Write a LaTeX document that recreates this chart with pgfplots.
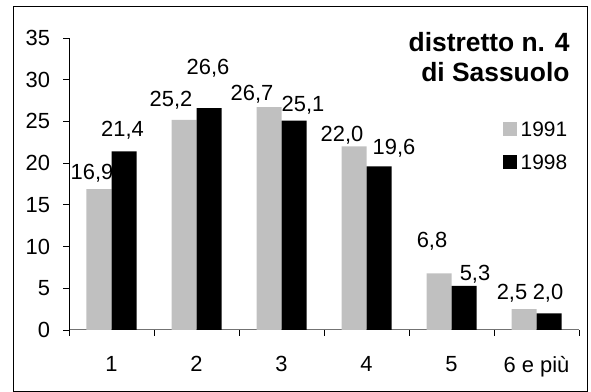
\documentclass[border=0pt]{standalone}
\usepackage{fontspec}
\setmainfont{Liberation Sans}
\usepackage{pgfplots}
\usepackage{pgfplotstable}
\pgfplotsset{compat=1.18}
\pgfplotstableread{
x y dx dy
0.5 16.9 -7 17
1.5 25.2 -13 21
2.5 26.7 -17 14
3.5 22.0 -12 12.5
4.5 6.8 -7 33
5.5 2.5 -12 17
}\dataA
\pgfplotstableread{
x y dx dy
0.5 21.4 -1.5 22.5
1.5 26.6 -1 41
2.5 25.1 9 16.5
3.5 19.6 15 19.5
4.5 5.3 11 13
5.5 2.0 -1 21
}\dataB
\definecolor{barA}{HTML}{C0C0C0}
\newcommand{\lab}{\fontsize{22}{26}\selectfont}
\newcommand{\leg}{\fontsize{21}{25}\selectfont}
\begin{document}
\begin{tikzpicture}
\path[use as bounding box] (0,0) rectangle (591bp,392bp);
\draw[line width=1bp] (13bp,1bp) rectangle (587bp,385bp);
\begin{axis}[
  at={(69bp,62bp)}, anchor=south west,
  scale only axis, width=510bp, height=292bp,
  xmin=0, xmax=6, ymin=0, ymax=35,
  axis lines*=left,
  x axis line style={black!55, line width=1bp},
  y axis line style={black, line width=0.8bp},
  ybar=0pt, bar width=25bp,
  xtick={0,...,6}, xticklabels={1,2,3,4,5,6 e più}, x tick label as interval,
  ytick={0,5,...,35},
  tick align=outside, major tick length=6bp,
  tick style={black, line width=0.8bp},
  /pgf/number format/assume math mode=true,
  tick label style={font=\lab},
  yticklabel style={xshift=-9.5bp},
  xticklabel style={yshift=-17bp},
  nodes near coords={\pgfmathprintnumber[fixed,fixed zerofill,precision=1,use comma,assume math mode=true]{\pgfplotspointmeta}},
  visualization depends on={\thisrow{dx} \as \labdx},
  visualization depends on={\thisrow{dy} \as \labdy},
  nodes near coords style={font=\lab, anchor=center, text depth=0pt, inner sep=0pt, xshift=\labdx bp, yshift=\labdy bp, black},
  legend image code/.code={\fill[#1] (0bp,-7bp) rectangle (14bp,7bp);},
  legend style={draw=none, fill=none, font=\leg, at={(0.851,0.713)}, anchor=north west, inner sep=0pt, row sep=19bp,
    nodes={text height=14bp, text depth=0bp, inner sep=0pt}},
  legend cell align=left,
  clip=false,
]
\addplot[fill=barA, draw=none] table[x=x,y=y] {\dataA};
\addplot[fill=black, draw=none] table[x=x,y=y] {\dataB};
\legend{\,1991,\,1998}
\end{axis}
\node[anchor=base east, font=\fontsize{26.5}{30}\bfseries] at (573bp,340bp) {distretto n. 4};
\node[anchor=base east, font=\fontsize{26.5}{30}\bfseries] at (573bp,310bp) {di Sassuolo};
\end{tikzpicture}
\end{document}
